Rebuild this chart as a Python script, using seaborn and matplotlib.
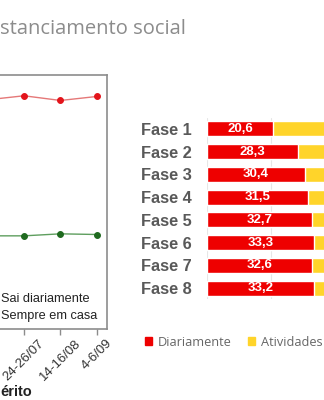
import matplotlib
matplotlib.use("Agg")
import matplotlib.pyplot as plt
from matplotlib.patches import Patch
import seaborn as sns
import pandas as pd

# ---- data ----
fases = ["Fase 1", "Fase 2", "Fase 3", "Fase 4", "Fase 5", "Fase 6", "Fase 7", "Fase 8"]
diariamente = [20.6, 28.3, 30.4, 31.5, 32.7, 33.3, 32.6, 33.2]
atividades = [55.0, 52.0, 51.0, 50.5, 50.0, 50.0, 50.5, 50.0]  # not visible (cropped)

# left line chart (last phases visible)
line_pos = [4, 5, 6, 7]
sai_diariamente = [32.7, 33.3, 32.6, 33.2]
sempre_em_casa = [12.4, 12.4, 12.7, 12.6]
tick_pos = [5, 6, 7]
tick_labels = ["24-26/07", "14-16/08", "4-6/09"]

RED = "#ee0000"
YELLOW = "#ffd42a"

sns.set_theme(style="white")
plt.rcParams["font.family"] = ["Liberation Sans", "DejaVu Sans"]

fig = plt.figure(figsize=(3.24, 4.0), dpi=100)
fig.patch.set_facecolor("white")

# ---- title (cropped) ----
fig.text(0.0, 1 - 29 / 400, "stanciamento social", color="#8c8c8c",
         fontsize=14.5, family=["Open Sans", "DejaVu Sans"], va="center", ha="left")

# ---- left line chart ----
ax1 = fig.add_axes([0.0, 71 / 400, 107 / 324, 254 / 400])
df_line = pd.DataFrame({
    "pos": line_pos * 2,
    "val": sai_diariamente + sempre_em_casa,
    "serie": ["Sai diariamente"] * 4 + ["Sempre em casa"] * 4,
})
sns.lineplot(data=df_line[df_line.serie == "Sai diariamente"], x="pos", y="val",
             ax=ax1, color="#e57878", lw=1.0, marker="o", markersize=4.2,
             markerfacecolor="#e3141b", markeredgecolor="#e3141b",
             label="Sai diariamente")
sns.lineplot(data=df_line[df_line.serie == "Sempre em casa"], x="pos", y="val",
             ax=ax1, color="#5e9e5e", lw=1.0, marker="o", markersize=4.2,
             markerfacecolor="#1f6a1f", markeredgecolor="#1f6a1f",
             label="Sempre em casa")
ax1.set_xlim(7 - 97 / 36.5, 7 + 10 / 36.5)
ax1.set_ylim(-1.5, 36.4)
ax1.set_xticks(tick_pos)
ax1.set_xticklabels(tick_labels, rotation=45, fontsize=9.5, color="#333333")
ax1.set_yticks([])
ax1.set_xlabel("")
ax1.set_ylabel("")
ax1.tick_params(axis="x", direction="out", length=4, width=1, color="#8c8c8c",
                bottom=True, pad=2)
ax1.spines["left"].set_visible(False)
for s in ["top", "right", "bottom"]:
    ax1.spines[s].set_color("#8c8c8c")
    ax1.spines[s].set_linewidth(1.2)
ax1.legend(loc="lower left", bbox_to_anchor=(-0.435, -0.016), frameon=False,
           fontsize=9.2, labelspacing=0.38, labelcolor="#222222")

fig.text(0.0, (400 - 392) / 400, "érito", fontsize=10.5, fontweight="bold",
         color="#222222", ha="left", va="center")

# ---- right stacked bar chart ----
ax2 = fig.add_axes([207 / 324, (400 - 299.4) / 400, 321 / 324, 181.8 / 400])
totals = [d + a for d, a in zip(diariamente, atividades)]
df_bar = pd.DataFrame({"fase": fases, "diariamente": diariamente, "total": totals})
sns.barplot(data=df_bar, x="total", y="fase", orient="h", color=YELLOW,
            saturation=1, width=0.66, ax=ax2, zorder=2)
sns.barplot(data=df_bar, x="diariamente", y="fase", orient="h", color=RED,
            saturation=1, width=0.66, ax=ax2, zorder=3)
red_container = ax2.containers[1]
ax2.bar_label(red_container, labels=[f"{v:.1f}".replace(".", ",") for v in diariamente],
              label_type="center", color="white", fontweight="bold", fontsize=9.5)
ax2.set_xlim(0, 100)
ax2.set_ylim(7.5, -0.5)
ax2.set_xticks([0, 20, 40, 60, 80, 100])
ax2.set_xticklabels([])
ax2.grid(axis="x", color="#e6e6e6", lw=0.8, zorder=0)
ax2.set_axisbelow(True)
ax2.set_xlabel("")
ax2.set_ylabel("")
ax2.tick_params(axis="y", length=0, pad=11, labelsize=11.8, labelcolor="#595959")
ax2.tick_params(axis="x", length=0)
for lab in ax2.get_yticklabels():
    lab.set_fontweight("bold")
for s in ax2.spines.values():
    s.set_visible(False)

handles = [Patch(facecolor=RED, edgecolor=RED), Patch(facecolor=YELLOW, edgecolor=YELLOW)]
fig.legend(handles, ["Diariamente", "Atividades"], ncol=2, frameon=False,
           loc="center left", bbox_to_anchor=(145 / 324, (400 - 342) / 400),
           borderpad=0, borderaxespad=0, handlelength=0.55, handleheight=0.55,
           handletextpad=0.45, columnspacing=1.3,
           labelcolor="#666666", prop={"family": ["Open Sans", "DejaVu Sans"], "size": 9.2})

fig.savefig("out.png", dpi=100, facecolor="white")
